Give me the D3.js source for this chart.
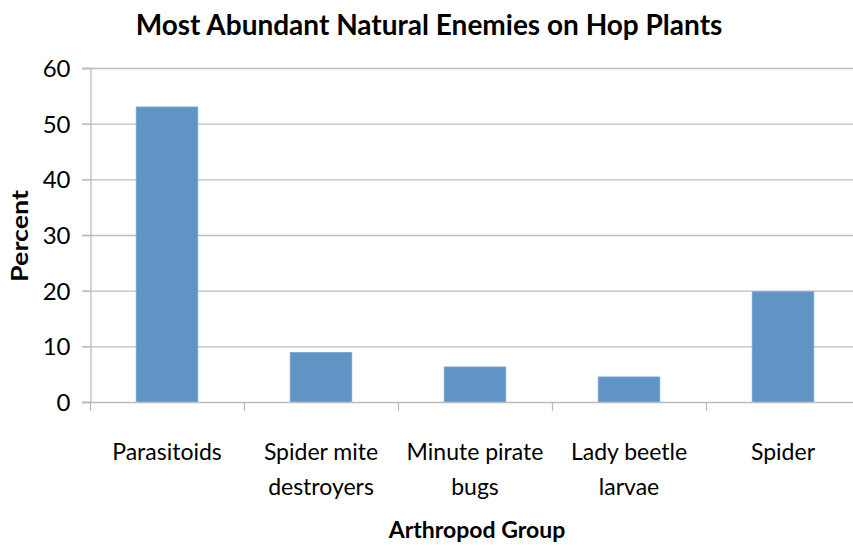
<!DOCTYPE html>
<html>
<head>
<meta charset="utf-8">
<script src="https://cdn.jsdelivr.net/npm/d3@7"></script>
<style>
html,body{margin:0;padding:0;background:#fff;}
svg{display:block;}
text{font-family:Lato,"Open Sans",sans-serif;fill:#000;}
</style>
</head>
<body>
<svg id="c" width="853" height="546"></svg>
<script>
const categories = [["Parasitoids"],["Spider mite","destroyers"],["Minute pirate","bugs"],["Lady beetle","larvae"],["Spider"]];
const categoryKeys = ["Parasitoids","Spider mite destroyers","Minute pirate bugs","Lady beetle larvae","Spider"];
const values = [53, 8.9, 6.3, 4.5, 19.8];
const yTicks = [0,10,20,30,40,50,60];
const title = "Most Abundant Natural Enemies on Hop Plants";
const xTitle = "Arthropod Group";
const yTitle = "Percent";

const svg = d3.select("#c");
const mLeft = 90, mRight = 860, mTop = 68, mBottom = 402;

const x = d3.scaleBand().domain(categoryKeys).range([mLeft, mRight]).paddingInner(0.6).paddingOuter(0.3);
const y = d3.scaleLinear().domain([0, 60]).range([mBottom, mTop]);

const grid = "#bcbcbc";

// gridlines
svg.append("g").selectAll("line").data(yTicks.filter(d=>d>0)).join("line")
  .attr("x1", mLeft - 8).attr("x2", 853)
  .attr("y1", d=>y(d)+0.5).attr("y2", d=>y(d)+0.5)
  .attr("stroke", grid).attr("stroke-width", 1.3);

// y axis
const yAxis = svg.append("g").attr("transform", `translate(${mLeft+0.5},0)`)
  .call(d3.axisLeft(y).tickValues(yTicks).tickSize(8).tickPadding(12));
yAxis.select(".domain").attr("stroke", grid).attr("stroke-width",1.3);
yAxis.selectAll(".tick line").attr("stroke", grid).attr("stroke-width",1.3);
yAxis.selectAll(".tick text").style("font-size","24px").attr("fill","#000").attr("dy","0.36em");

// bars
svg.append("g").selectAll("rect").data(values).join("rect")
  .attr("x", (d,i)=>x(categoryKeys[i]))
  .attr("width", x.bandwidth())
  .attr("y", d=>y(d))
  .attr("height", d=>y(0)-y(d))
  .attr("fill", "#5f94c5")
  .attr("stroke", "#7aa6d0").attr("stroke-width", 0.8);

// x axis baseline
svg.append("line").attr("x1", mLeft - 8).attr("x2", 853)
  .attr("y1", mBottom+0.5).attr("y2", mBottom+0.5)
  .attr("stroke", grid).attr("stroke-width", 1.3);

// category ticks (boundaries)
const step = x.step();
svg.append("g").selectAll("line").data(d3.range(categoryKeys.length+1)).join("line")
  .attr("x1", i => mLeft + i*step + 0.5).attr("x2", i => mLeft + i*step + 0.5)
  .attr("y1", mBottom).attr("y2", mBottom+9)
  .attr("stroke", grid).attr("stroke-width", 1.3);

// category labels
const lab = svg.append("g").selectAll("text").data(categories).join("text")
  .attr("x", (d,i)=> x(categoryKeys[i]) + x.bandwidth()/2)
  .attr("y", 460)
  .attr("text-anchor","middle")
  .style("font-size","23px");
lab.selectAll("tspan").data(d=>d).join("tspan")
  .attr("x", function(){ return d3.select(this.parentNode).attr("x"); })
  .attr("dy", (d,i)=> i===0 ? 0 : 35)
  .text(d=>d);

// title
svg.append("text").attr("x", 429).attr("y", 35).attr("text-anchor","middle")
  .style("font-size","28px").style("font-weight","bold").text(title);

// x title
svg.append("text").attr("x", 477).attr("y", 538).attr("text-anchor","middle")
  .style("font-size","23px").style("font-weight","bold").text(xTitle);

// y title
svg.append("text").attr("transform","translate(28,236) rotate(-90) scale(1.22,1)").attr("text-anchor","middle")
  .style("font-size","22px").style("font-weight","bold").text(yTitle);
</script>
</body>
</html>
